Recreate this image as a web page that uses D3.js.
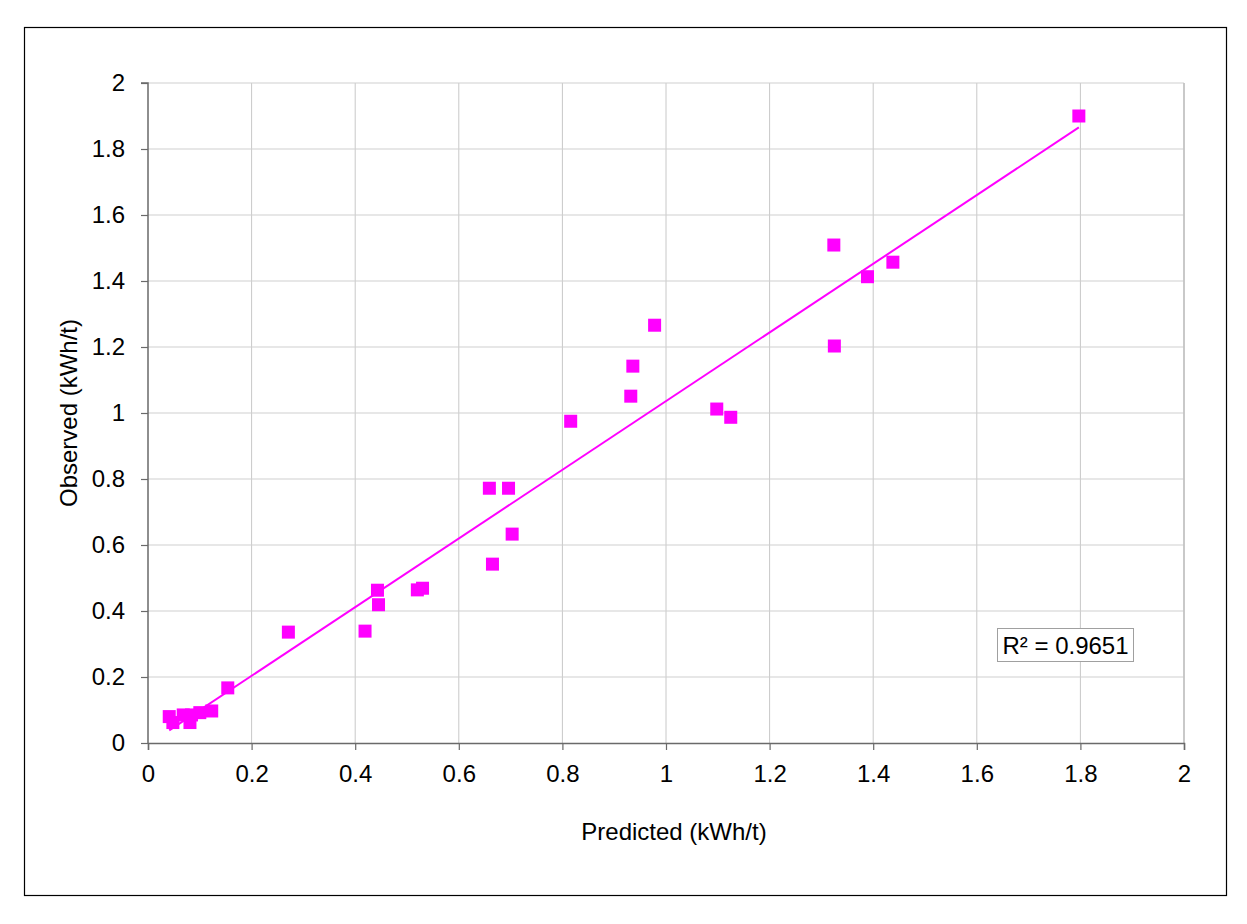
<!DOCTYPE html>
<html>
<head>
<meta charset="utf-8">
<script src="https://cdn.jsdelivr.net/npm/d3@7"></script>
<style>
  html, body { margin: 0; padding: 0; background: #fff; }
  svg { display: block; }
  text { font-family: "Liberation Sans", Arial, sans-serif; fill: #000; }
</style>
</head>
<body>
<svg id="chart" width="1247" height="924"></svg>
<script>
// ---- data ----
const predicted = [1.797, 1.324, 1.325, 1.389, 1.438, 0.978, 0.936, 0.932, 1.098, 1.125,
                   0.816, 0.659, 0.696, 0.703, 0.665, 0.520, 0.530, 0.443, 0.445, 0.419,
                   0.271, 0.154, 0.041, 0.048, 0.068, 0.081, 0.084, 0.100, 0.123];
const observed  = [1.900, 1.509, 1.203, 1.413, 1.457, 1.266, 1.142, 1.051, 1.012, 0.987,
                   0.975, 0.772, 0.772, 0.633, 0.542, 0.464, 0.469, 0.463, 0.419, 0.339,
                   0.336, 0.167, 0.080, 0.062, 0.085, 0.062, 0.085, 0.092, 0.097];
const xTicks = [0, 0.2, 0.4, 0.6, 0.8, 1, 1.2, 1.4, 1.6, 1.8, 2];
const yTicks = [0, 0.2, 0.4, 0.6, 0.8, 1, 1.2, 1.4, 1.6, 1.8, 2];
const xTitle = "Predicted (kWh/t)";
const yTitle = "Observed (kWh/t)";
const r2Label = "R² = 0.9651";

const svg = d3.select("#chart");
const plot = {left: 148, top: 83, right: 1184, bottom: 743};
const x = d3.scaleLinear().domain([0, 2]).range([plot.left, plot.right]);
const y = d3.scaleLinear().domain([0, 2]).range([plot.bottom, plot.top]);
const magenta = "#FF00FF";
const fontSize = 24;

// outer frame
svg.append("rect").attr("x", 24.5).attr("y", 27.5).attr("width", 1202).attr("height", 868)
  .attr("fill", "#fff").attr("stroke", "#000").attr("stroke-width", 1.2);

// gridlines
const grid = svg.append("g");
grid.selectAll("line.v").data(xTicks.slice(1)).join("line")
  .attr("x1", d => x(d)).attr("x2", d => x(d))
  .attr("y1", plot.top).attr("y2", plot.bottom)
  .attr("stroke", "#c8c8c8").attr("stroke-width", 1);
grid.selectAll("line.h").data(yTicks.slice(1)).join("line")
  .attr("x1", plot.left).attr("x2", plot.right)
  .attr("y1", d => y(d)).attr("y2", d => y(d))
  .attr("stroke", "#d0d0d0").attr("stroke-width", 1.2);
svg.append("line").attr("x1", plot.right).attr("x2", plot.right).attr("y1", plot.top).attr("y2", plot.bottom)
  .attr("stroke", "#c0c0c0").attr("stroke-width", 1.5);

// axes
const xAxis = d3.axisBottom(x).tickValues(xTicks).tickSize(7).tickPadding(15).tickFormat(d3.format("~g"));
const yAxis = d3.axisLeft(y).tickValues(yTicks).tickSize(7).tickPadding(16).tickFormat(d3.format("~g"));
const gx = svg.append("g").attr("transform", `translate(0,${plot.bottom})`).call(xAxis);
const gy = svg.append("g").attr("transform", `translate(${plot.left},0)`).call(yAxis);
[gx, gy].forEach(g => {
  g.select(".domain").attr("stroke", "#6a6a6a").attr("stroke-width", 1.5);
  g.selectAll(".tick line").attr("stroke", "#6a6a6a").attr("stroke-width", 1.2);
  g.selectAll(".tick text").attr("font-size", fontSize).attr("font-family", "Liberation Sans, Arial, sans-serif").attr("fill", "#000");
});
gy.select(".domain").attr("d", `M-7,${plot.top}H0V${plot.bottom}`);

// trendline (least squares from data)
const mx = d3.mean(predicted), my = d3.mean(observed);
let sxy = 0, sxx = 0;
predicted.forEach((p, i) => { sxy += (p - mx) * (observed[i] - my); sxx += (p - mx) * (p - mx); });
const slope = sxy / sxx, intercept = my - slope * mx;
const x0 = d3.min(predicted), x1 = d3.max(predicted);
svg.append("line")
  .attr("x1", x(x0)).attr("y1", y(slope * x0 + intercept))
  .attr("x2", x(x1)).attr("y2", y(slope * x1 + intercept))
  .attr("stroke", magenta).attr("stroke-width", 2);

// points
const ms = 13;
svg.append("g").selectAll("rect").data(predicted).join("rect")
  .attr("x", (d) => x(d) - ms / 2)
  .attr("y", (d, i) => y(observed[i]) - ms / 2)
  .attr("width", ms).attr("height", ms)
  .attr("fill", magenta);

// R² label box
const r2 = svg.append("g");
r2.append("rect").attr("x", 997.5).attr("y", 628.5).attr("width", 136).attr("height", 33)
  .attr("fill", "#fff").attr("stroke", "#a0a0a0").attr("stroke-width", 1);
r2.append("text").attr("x", 1065.5).attr("y", 654).attr("text-anchor", "middle")
  .attr("font-size", fontSize).text(r2Label);

// axis titles
svg.append("text").attr("x", (plot.left + plot.right) / 2 + 8).attr("y", 840)
  .attr("text-anchor", "middle").attr("font-size", fontSize).text(xTitle);
svg.append("text").attr("transform", `translate(77,${(plot.top + plot.bottom) / 2}) rotate(-90)`)
  .attr("text-anchor", "middle").attr("font-size", fontSize).text(yTitle);
</script>
</body>
</html>
